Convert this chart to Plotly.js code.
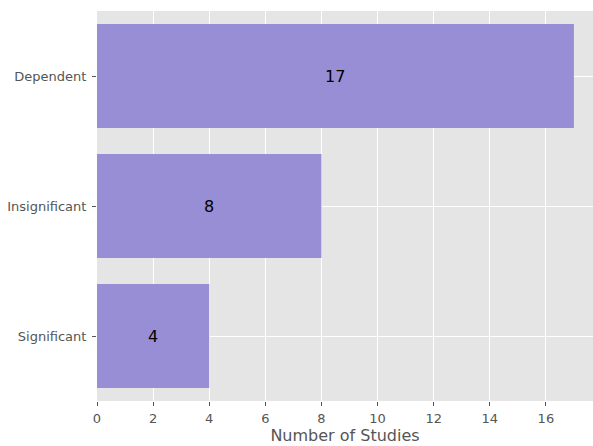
<!DOCTYPE html>
<html>
<head>
<meta charset="utf-8">
<script src="https://cdn.plot.ly/plotly-3.0.1.min.js"></script>
<style>html,body{margin:0;padding:0;background:#fff;}#chart{width:593px;height:446px;}</style>
</head>
<body>
<div id="chart"></div>
<script>
const categories = ["Significant", "Insignificant", "Dependent"];
const counts = [4, 8, 17];
const xTicks = [0, 2, 4, 6, 8, 10, 12, 14, 16];

const trace = {
  type: "bar",
  orientation: "h",
  y: categories,
  x: counts,
  width: 0.8,
  marker: {color: "#988ED5", line: {width: 0}},
  hoverinfo: "none"
};

const annotations = categories.map((c, i) => ({
  x: counts[i] / 2,
  y: c,
  xref: "x",
  yref: "y",
  text: String(counts[i]),
  showarrow: false,
  font: {family: "DejaVu Sans, sans-serif", size: 16, color: "#000"}
}));

const layout = {
  width: 593,
  height: 446,
  margin: {l: 97, r: 0, t: 11, b: 45},
  paper_bgcolor: "#fff",
  plot_bgcolor: "#E5E5E5",
  showlegend: false,
  font: {family: "DejaVu Sans, sans-serif", size: 13, color: "#555"},
  xaxis: {
    range: [0, 17.68],
    tickvals: xTicks,
    ticktext: xTicks.map(String),
    showgrid: true,
    gridcolor: "#fff",
    gridwidth: 1,
    zeroline: false,
    showline: false,
    ticks: "outside",
    ticklen: 4,
    tickwidth: 1,
    tickcolor: "#555",
    ticklabelstandoff: 1,
    tickfont: {size: 13, color: "#555"},
    title: {text: "Number of Studies", font: {size: 16, color: "#555"}, standoff: 5}
  },
  yaxis: {
    range: [-0.5, 2.5],
    showgrid: true,
    gridcolor: "#fff",
    gridwidth: 1,
    zeroline: false,
    showline: false,
    ticks: "outside",
    ticklen: 4,
    tickwidth: 1,
    tickcolor: "#555",
    ticklabelstandoff: 3,
    tickfont: {size: 13, color: "#555"}
  },
  annotations: annotations
};

Plotly.newPlot("chart", [trace], layout, {displayModeBar: false, staticPlot: true});
</script>
</body>
</html>
